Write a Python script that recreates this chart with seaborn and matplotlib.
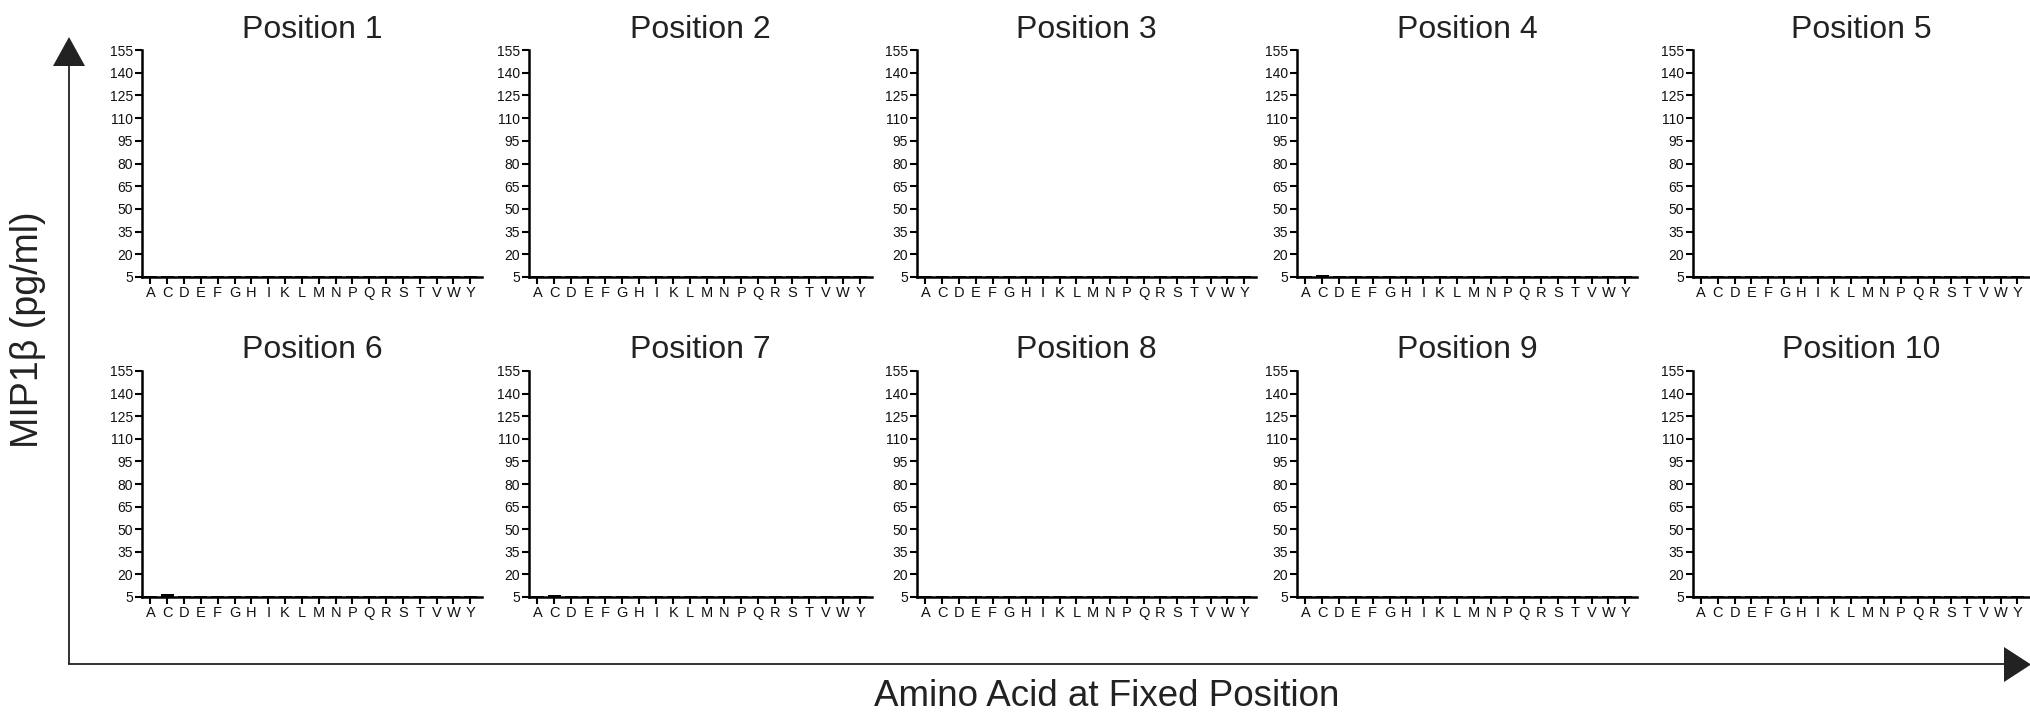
import matplotlib
matplotlib.use("Agg")
import matplotlib.pyplot as plt
import seaborn as sns
import pandas as pd

# ---- data ----
amino_acids = ["A", "C", "D", "E", "F", "G", "H", "I", "K", "L",
               "M", "N", "P", "Q", "R", "S", "T", "V", "W", "Y"]
position_titles = ["Position 1", "Position 2", "Position 3", "Position 4", "Position 5",
                   "Position 6", "Position 7", "Position 8", "Position 9", "Position 10"]
pos1 = [5.5, 5.5, 5.5, 5.5, 5.5, 5.5, 5.5, 5.5, 5.5, 5.5, 5.5, 5.5, 5.5, 5.5, 5.5, 5.5, 5.5, 5.5, 5.5, 5.5]
pos2 = [5.4, 5.4, 5.4, 5.4, 5.4, 5.4, 5.4, 5.4, 5.4, 5.4, 5.4, 5.4, 5.4, 5.4, 5.4, 5.4, 5.4, 5.4, 5.4, 5.4]
pos3 = [5.4, 5.4, 5.4, 5.4, 5.4, 5.4, 5.4, 5.4, 5.4, 5.4, 5.4, 5.4, 5.4, 5.4, 5.4, 5.4, 5.4, 5.4, 5.4, 5.4]
pos4 = [5.5, 6.4, 5.5, 5.5, 5.5, 5.5, 5.5, 5.5, 5.5, 5.5, 5.5, 5.5, 5.5, 5.5, 5.5, 5.5, 5.5, 5.5, 5.5, 5.5]
pos5 = [5.5, 5.8, 5.5, 5.5, 5.5, 5.5, 5.5, 5.5, 5.5, 5.5, 5.5, 5.5, 5.5, 5.5, 5.5, 5.5, 5.5, 5.5, 5.5, 5.5]
pos6 = [5.5, 7.3, 5.5, 5.5, 5.5, 5.5, 5.5, 5.5, 5.5, 5.5, 5.5, 5.5, 5.5, 5.5, 5.5, 5.5, 5.5, 5.5, 5.5, 5.5]
pos7 = [5.5, 6.0, 5.5, 5.5, 5.5, 5.5, 5.5, 5.5, 5.5, 5.5, 5.5, 5.5, 5.5, 5.5, 5.5, 5.5, 5.5, 5.5, 5.5, 5.5]
pos8 = [5.4, 5.4, 5.4, 5.4, 5.4, 5.4, 5.4, 5.4, 5.4, 5.4, 5.4, 5.4, 5.4, 5.4, 5.4, 5.4, 5.4, 5.4, 5.4, 5.4]
pos9 = [5.4, 5.4, 5.4, 5.4, 5.4, 5.4, 5.4, 5.4, 5.4, 5.4, 5.4, 5.4, 5.4, 5.4, 5.4, 5.4, 5.4, 5.4, 5.4, 5.4]
pos10 = [5.4, 5.4, 5.4, 5.4, 5.4, 5.4, 5.4, 5.4, 5.4, 5.4, 5.4, 5.4, 5.4, 5.4, 5.4, 5.4, 5.4, 5.4, 5.4, 5.4]
y_ticks = [5, 20, 35, 50, 65, 80, 95, 110, 125, 140, 155]
y_label = "MIP1\u03b2 (pg/ml)"
x_label = "Amino Acid at Fixed Position"

all_positions = [pos1, pos2, pos3, pos4, pos5, pos6, pos7, pos8, pos9, pos10]

# ---- style ----
sns.set_theme(style="ticks")
plt.rcParams["font.family"] = ["Liberation Sans", "DejaVu Sans"]

W, H = 2031, 712
fig = plt.figure(figsize=(W / 100, H / 100), dpi=100)

# overlay for big arrows (pixel coords)
ov = fig.add_axes([0, 0, 1, 1], zorder=0)
ov.set_xlim(0, W)
ov.set_ylim(H, 0)
ov.axis("off")
lw_arrow = 1.3
ov.plot([69, 69], [664, 64], color="#222222", lw=lw_arrow, solid_capstyle="butt")
ov.fill([53, 85, 69], [66, 66, 37], color="#222222", lw=0)
ov.plot([68.4, 2006], [664, 664], color="#222222", lw=lw_arrow, solid_capstyle="butt")
ov.fill([2004, 2004, 2031], [647, 682, 664.5], color="#222222", lw=0)

ov.text(28, 330, y_label, rotation=90, ha="center", va="center", fontsize=27, color="#222222")
ov.text(1107, 697, x_label, ha="center", va="center", fontsize=26.5, color="#222222")

cols = [(142, 482), (529, 872), (917, 1256), (1297, 1637), (1693, 2029)]
rows = [(50, 277), (371, 597)]

for i, vals in enumerate(all_positions):
    r, c = divmod(i, 5)
    x0, x1 = cols[c]
    t, b = rows[r]
    ax = fig.add_axes([x0 / W, 1 - b / H, (x1 - x0) / W, (b - t) / H], zorder=2)
    ax.patch.set_alpha(0)
    df = pd.DataFrame({"aa": amino_acids, "value": vals})
    sns.barplot(data=df, x="aa", y="value", order=amino_acids, color="black",
                width=0.78, ax=ax, edgecolor="black", linewidth=0)
    ax.set_ylim(5, 155)
    ax.set_xlim(-0.5, 19.7)
    ax.set_yticks(y_ticks)
    ax.set_yticklabels([str(v) for v in y_ticks], fontsize=10)
    ax.set_xticks(range(len(amino_acids)))
    ax.set_xticklabels(amino_acids, fontsize=10.5)
    ax.set_xlabel("")
    ax.set_ylabel("")
    for s in ["top", "right"]:
        ax.spines[s].set_visible(False)
    for s in ["left", "bottom"]:
        ax.spines[s].set_linewidth(1.8)
        ax.spines[s].set_color("black")
    ax.tick_params(axis="both", direction="out", length=5, width=1.5, color="black",
                   labelcolor="#111111", pad=1.5)
    ax.set_title(position_titles[i], fontsize=23, pad=9, color="#222222")

fig.savefig("out.png", dpi=100)
